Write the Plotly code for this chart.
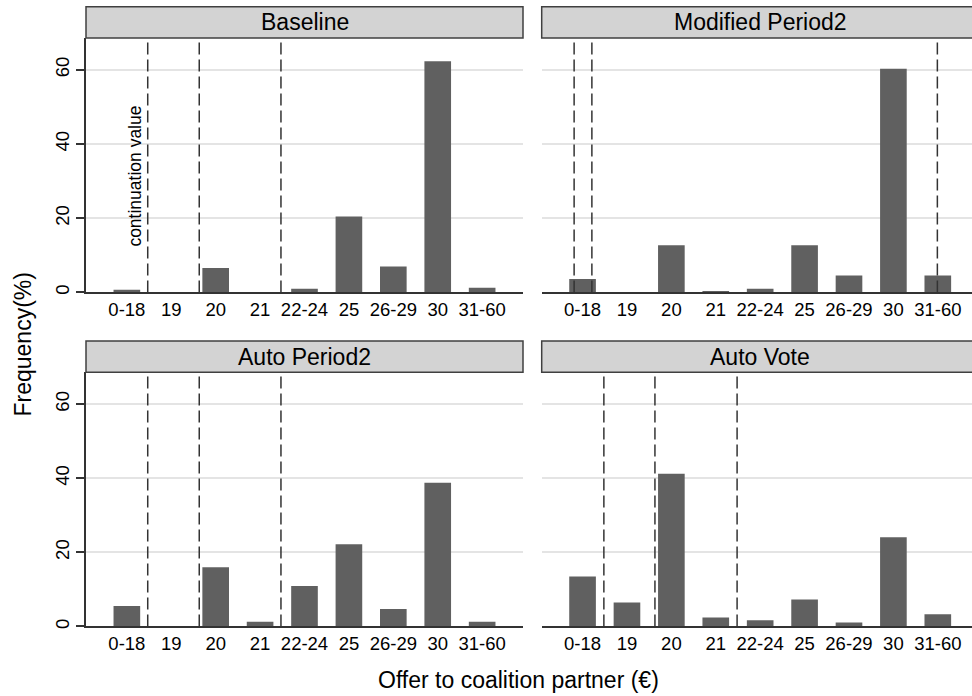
import plotly.graph_objects as go

# Offer categories and frequency (%) by treatment
categories = ["0-18", "19", "20", "21", "22-24", "25", "26-29", "30", "31-60"]
baseline = [0.7, 0, 6.6, 0, 1.0, 20.5, 7.0, 62.3, 1.3]
modified_period2 = [3.6, 0, 12.7, 0.4, 1.0, 12.7, 4.6, 60.3, 4.6]
auto_period2 = [5.5, 0, 16.0, 1.3, 10.9, 22.2, 4.7, 38.8, 1.3]
auto_vote = [13.5, 6.5, 41.2, 2.4, 1.7, 7.3, 1.1, 24.1, 3.3]

# Reference cut-offs (continuation values), in category-index units
baseline_cuts = [0.47, 1.63, 3.47]
modified_cuts = [-0.19, 0.21, 7.99]
auto_period2_cuts = [0.47, 1.63, 3.47]
auto_vote_cuts = [0.48, 1.63, 3.48]

panel_titles = ["Baseline", "Modified Period2", "Auto Period2", "Auto Vote"]
panel_values = [baseline, modified_period2, auto_period2, auto_vote]
panel_cuts = [baseline_cuts, modified_cuts, auto_period2_cuts, auto_vote_cuts]

W, H = 972, 696
FONT = "Liberation Sans, Arial, Helvetica, sans-serif"
BAR = "#606060"
DARK = "#333333"


def px(x):
    return x / W


def py(y):
    return 1 - y / H


# panel boxes in pixels: (left, right, top, bottom)
left_x = (86, 523)
right_x = (541.7, 972)
top_y = (38, 293.3)
bot_y = (373.3, 628.3)
boxes = [(left_x, top_y), (right_x, top_y), (left_x, bot_y), (right_x, bot_y)]
strip_h = 31.3

positions = list(range(len(categories)))
fig = go.Figure()
layout = dict(
    width=W, height=H,
    margin=dict(l=0, r=0, t=0, b=0),
    paper_bgcolor="white", plot_bgcolor="white",
    showlegend=False,
    font=dict(family=FONT, color="black"),
    shapes=[], annotations=[],
)

for i, (title, vals, cuts, box) in enumerate(zip(panel_titles, panel_values, panel_cuts, boxes)):
    n = i + 1
    xa = "x" if n == 1 else f"x{n}"
    ya = "y" if n == 1 else f"y{n}"
    (x0, x1), (y0, y1) = box
    is_left = n in (1, 3)
    xrange = [-0.92, 8.92] if is_left else [-0.92, 8.77]

    fig.add_trace(go.Bar(
        x=positions, y=vals, width=0.6, xaxis=xa, yaxis=ya,
        marker=dict(color=BAR, line=dict(width=0)),
        hoverinfo="x+y",
    ))

    layout["xaxis" if n == 1 else f"xaxis{n}"] = dict(
        domain=[px(x0), px(x1)], anchor=ya, range=xrange,
        tickmode="array", tickvals=positions, ticktext=categories,
        showline=True, linecolor=DARK, linewidth=1.5, ticks="",
        showgrid=False, zeroline=False,
        tickfont=dict(size=18.5, family=FONT, color="black"),
        fixedrange=True,
    )
    layout["yaxis" if n == 1 else f"yaxis{n}"] = dict(
        domain=[py(y1), py(y0)], anchor=xa, range=[0, 68.6],
        tickmode="array", tickvals=[0, 20, 40, 60],
        showgrid=True, gridcolor="#e4e4e4", gridwidth=1.5,
        zeroline=False,
        showline=is_left, linecolor=DARK, linewidth=1.5,
        ticks="outside" if is_left else "", ticklen=8, tickwidth=1.5, tickcolor=DARK,
        showticklabels=is_left, tickangle=-90,
        tickfont=dict(size=18.5, family=FONT, color="black"),
        fixedrange=True,
    )

    for c in cuts:
        layout["shapes"].append(dict(
            type="line", xref=xa, yref=f"{ya} domain",
            x0=c, x1=c, y0=0, y1=1,
            line=dict(color=DARK, width=1.5, dash="12px,5px"),
        ))

    # panel header strip
    strip_right = x1 if is_left else 990
    layout["shapes"].append(dict(
        type="rect", xref="paper", yref="paper",
        x0=px(x0), x1=px(strip_right), y0=py(y0), y1=py(y0 - strip_h),
        fillcolor="#d3d3d3", line=dict(color="#404040", width=1.5),
    ))
    centre = (x0 + x0 + 437) / 2
    layout["annotations"].append(dict(
        text=title, xref="paper", yref="paper",
        x=px(centre), y=py(y0 - strip_h / 2),
        showarrow=False, xanchor="center", yanchor="middle",
        font=dict(size=23, family=FONT, color="black"),
    ))

# label for the continuation-value line
layout["annotations"].append(dict(
    text="continuation value", xref="x", yref="y",
    x=0.19, y=31.3, textangle=-90, showarrow=False,
    xanchor="center", yanchor="middle",
    font=dict(size=17.5, family=FONT, color="black"),
))

# shared axis titles
layout["annotations"].append(dict(
    text="Frequency(%)", xref="paper", yref="paper",
    x=px(23), y=py(345.5), textangle=-90, showarrow=False,
    xanchor="center", yanchor="middle",
    font=dict(size=23, family=FONT, color="black"),
))
layout["annotations"].append(dict(
    text="Offer to coalition partner (€)", xref="paper", yref="paper",
    x=px(518), y=py(681.7), showarrow=False,
    xanchor="center", yanchor="middle",
    font=dict(size=23, family=FONT, color="black"),
))

fig.update_layout(**layout)
fig.write_html("out.html")
